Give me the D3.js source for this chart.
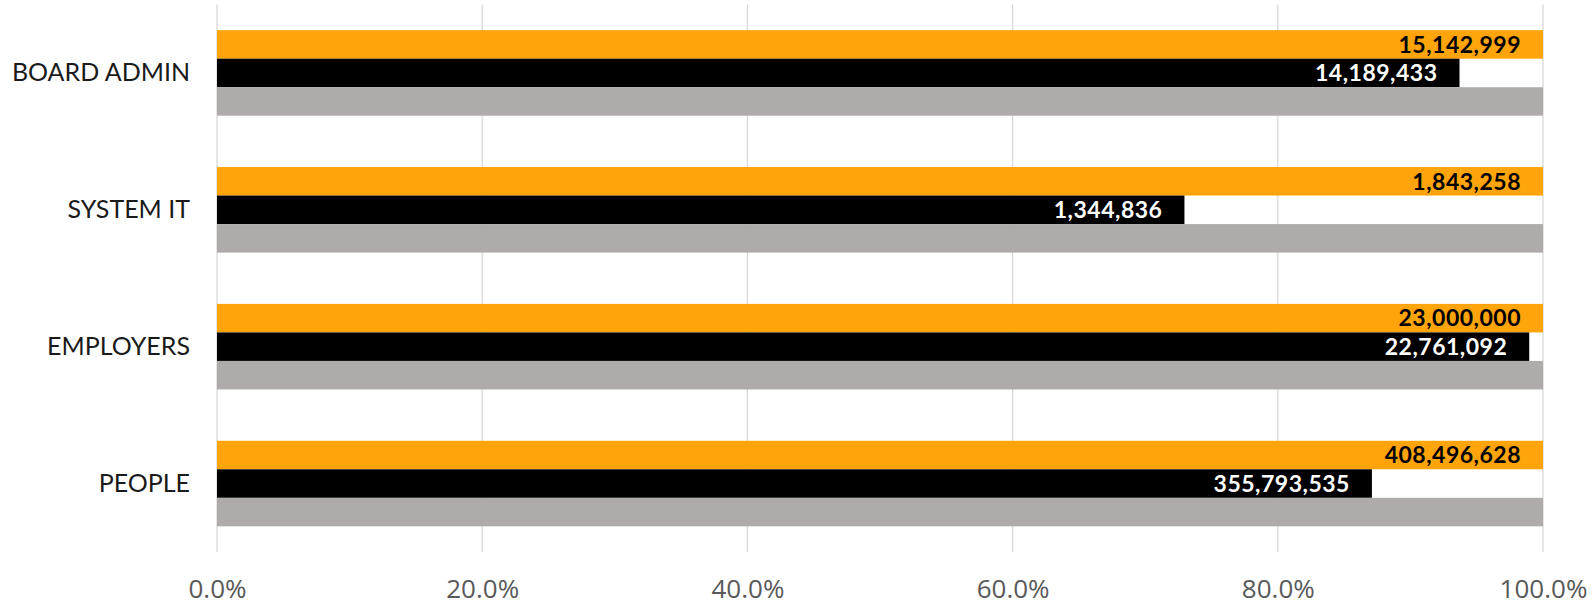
<!DOCTYPE html>
<html>
<head>
<meta charset="utf-8">
<script src="https://cdn.jsdelivr.net/npm/d3@7"></script>
<style>
  html, body { margin: 0; padding: 0; background: #fff; }
  svg { display: block; }
</style>
</head>
<body>
<svg id="chart" width="1593" height="605"></svg>
<script>
const categories = ["BOARD ADMIN", "SYSTEM IT", "EMPLOYERS", "PEOPLE"];
const budget = [15142999, 1843258, 23000000, 408496628];
const actual = [14189433, 1344836, 22761092, 355793535];
const reference = [1, 1, 1, 1];
const tickValues = [0, 0.2, 0.4, 0.6, 0.8, 1.0];
const seriesKeys = ["budget", "actual", "reference"];
const seriesColors = {budget: "#FFA40A", actual: "#000000", reference: "#AFABAB"};

const W = 1593, H = 605;
const margin = {left: 217, right: 50, top: 4.5, bottom: 53};
const svg = d3.select("#chart");

const x = d3.scaleLinear().domain([0, 1]).range([margin.left, W - margin.right]);
const y = d3.scaleBand().domain(categories).range([margin.top, H - margin.bottom])
  .paddingInner(0.375).paddingOuter(0.1875);
const ys = d3.scaleBand().domain(seriesKeys).range([0, y.bandwidth()]);

const rows = categories.map((c, i) => ({
  cat: c,
  budget: {pct: budget[i] / budget[i], label: budget[i]},
  actual: {pct: actual[i] / budget[i], label: actual[i]},
  reference: {pct: reference[i], label: null}
}));

// gridlines
svg.append("g").selectAll("line").data(tickValues).join("line")
  .attr("x1", d => x(d)).attr("x2", d => x(d))
  .attr("y1", margin.top).attr("y2", H - margin.bottom)
  .attr("stroke", "#D9D9D9").attr("stroke-width", 1.3);

// x axis labels
const xAxis = d3.axisBottom(x).tickValues(tickValues).tickFormat(d3.format(".1%")).tickSize(0);
const gx = svg.append("g").attr("transform", `translate(0,${H - margin.bottom})`).call(xAxis);
gx.select(".domain").remove();
gx.selectAll("text").attr("dy", null).attr("y", 46)
  .style("font-family", "'Open Sans', 'Liberation Sans', sans-serif")
  .style("font-size", "26px").attr("fill", "#595959");

// y axis labels
const yAxis = d3.axisLeft(y).tickSize(0).tickPadding(27);
const gy = svg.append("g").attr("transform", `translate(${margin.left},0)`).call(yAxis);
gy.select(".domain").remove();
gy.selectAll("text")
  .style("font-family", "Lato, 'Noto Sans', sans-serif")
  .style("font-size", "25px").attr("fill", "#1a1a1a");

const fmt = d3.format(",");
const groups = svg.append("g").selectAll("g").data(rows).join("g")
  .attr("transform", d => `translate(0,${y(d.cat)})`);

seriesKeys.forEach(k => {
  groups.append("rect")
    .attr("x", x(0))
    .attr("y", ys(k))
    .attr("width", d => x(d[k].pct) - x(0))
    .attr("height", ys.bandwidth())
    .attr("fill", seriesColors[k]);
});

["budget", "actual"].forEach(k => {
  groups.append("text")
    .attr("x", d => x(d[k].pct) - 22)
    .attr("y", ys(k) + ys.bandwidth() / 2)
    .attr("dy", "0.36em")
    .attr("text-anchor", "end")
    .style("font-family", "Lato, 'Noto Sans', sans-serif")
    .style("font-weight", "bold")
    .style("font-size", "23px")
    .style("letter-spacing", "0.5px")
    .attr("fill", k === "budget" ? "#000" : "#fff")
    .text(d => fmt(d[k].label));
});
</script>
</body>
</html>
